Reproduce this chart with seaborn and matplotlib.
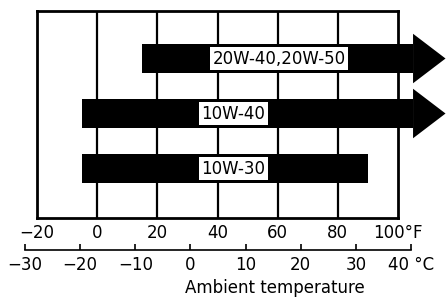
import matplotlib
matplotlib.use("Agg")
import matplotlib.pyplot as plt
import seaborn as sns
import numpy as np
import pandas as pd

# ---- data ----
grades = ["20W-40,20W-50", "10W-40", "10W-30"]
start_f = [15, -5, -5]          # °F where the range begins
end_f = [105, 105, 90]          # °F where the bar body ends
open_ended = [True, True, False]  # arrow head = continues upward
f_ticks = [-20, 0, 20, 40, 60, 80, 100]
f_labels = ["\u221220", "0", "20", "40", "60", "80", "100\u00b0F"]
c_ticks = [-30, -20, -10, 0, 10, 20, 30, 40]
c_labels = ["\u221230", "\u221220", "\u221210", "0", "10", "20", "30", "40 \u00b0C"]
xlabel = "Ambient temperature"

sns.set_theme(style="white")
plt.rcParams['font.family'] = ['DejaVu Sans']

W, H = 446, 298
fig = plt.figure(figsize=(W / 100, H / 100), dpi=100)


def px(x0, y0, x1, y1):
    return [x0 / W, 1 - y1 / H, (x1 - x0) / W, (y1 - y0) / H]


ax = fig.add_axes(px(37, 11, 398, 218))
df = pd.DataFrame({"grade": grades,
                   "span": np.subtract(end_f, start_f),
                   "start": start_f})
sns.barplot(data=df, x="span", y="grade", orient="h", color="black",
            width=0.54, left=df["start"].to_numpy(), errorbar=None, ax=ax,
            saturation=1, linewidth=0, clip_on=False, zorder=3)

for i, (e, o) in enumerate(zip(end_f, open_ended)):
    if o:
        ax.fill([e, e + 10.8, e], [i - 0.45, i, i + 0.45], color="black",
                lw=0, clip_on=False, zorder=3)

ylim = (2.9, -0.864)
ax.set_xlim(-20, 100)
ax.set_ylim(*ylim)
ax.vlines([0, 20, 40, 60, 80], ylim[0], ylim[1], color="black", lw=1.6, zorder=1)

label_x = [60.5, 45.3, 45.3]
for i, (g, lx) in enumerate(zip(grades, label_x)):
    ax.text(lx, i, g, ha="center", va="center", fontsize=12, color="black",
            zorder=5, bbox=dict(fc="white", ec="none", pad=1.8))

for s in ax.spines.values():
    s.set_color("black")
    s.set_linewidth(2)
ax.set_xticks(f_ticks, f_labels)
ax.tick_params(axis="x", bottom=False, length=0, pad=4, labelsize=12, colors="black")
ax.set_yticks([])
ax.set_xlabel("")
ax.set_ylabel("")

cax = fig.add_axes(px(25, 240, 411, 250))
cax.set_facecolor("none")
cax.set_xlim(-30, 40)
for k in ["top", "left", "right"]:
    cax.spines[k].set_visible(False)
cax.spines["bottom"].set_color("black")
cax.spines["bottom"].set_linewidth(1.2)
cax.set_yticks([])
cax.set_xticks(c_ticks, c_labels)
cax.tick_params(axis="x", bottom=True, direction="in", length=4, width=1.2,
                pad=4, labelsize=12, colors="black")

fig.text(275 / W, 1 - 293 / H, xlabel, ha="center", va="baseline", fontsize=12,
         color="black")

fig.savefig("out.png", dpi=100)
